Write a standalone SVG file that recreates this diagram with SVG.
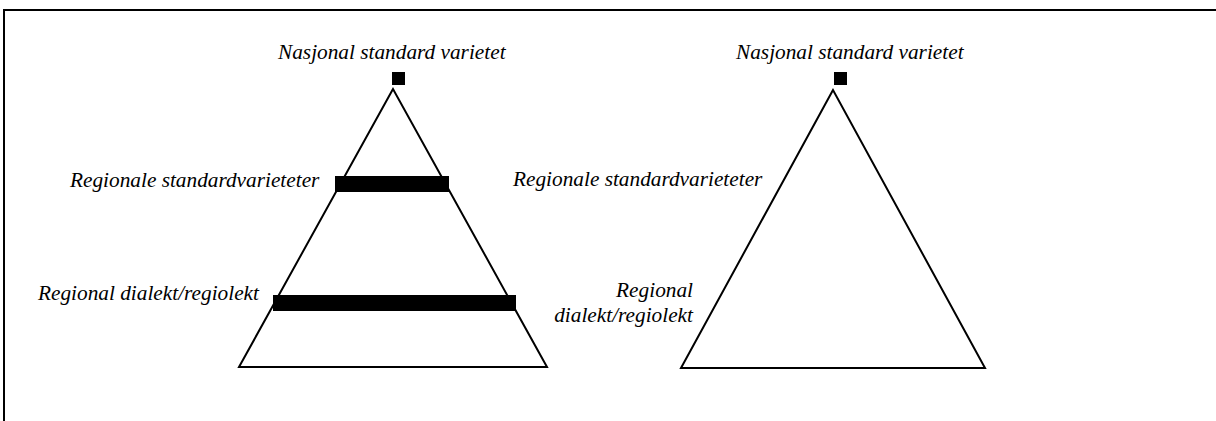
<svg xmlns="http://www.w3.org/2000/svg" width="1216" height="421" viewBox="0 0 1216 421">
  <style>
    .tri { fill: none; stroke: #000; stroke-width: 2; stroke-linejoin: miter; }
    .blk { fill: #000; }
    .frame { fill: none; stroke: #000; stroke-width: 2; }
  </style>
  <rect width="1216" height="421" fill="#fff"/>

  <!-- frame lines -->
  <path class="frame" d="M4,421 V10 H1216"/>

  <!-- left pyramid: national standard at the apex, two layers below -->
  <g id="pyramid-left">
    <polygon class="tri" points="393,89 239,367 547,367"/>
    <rect class="blk" x="392" y="72" width="13" height="13"/>
    <rect class="blk" x="335" y="176" width="114" height="16"/>
    <rect class="blk" x="273" y="295" width="243" height="16"/>
  </g>

  <g font-family="'Liberation Serif', 'DejaVu Serif', serif" font-style="italic" font-size="21.3" fill="#000">
    <g id="label-left-national">
      <text x="278" y="59">Nasjonal standard varietet</text>
    </g>
    <g id="label-left-regional-standard">
      <text x="70" y="187">Regionale standardvarieteter</text>
    </g>
    <g id="label-left-regional-dialect">
      <text x="38" y="300">Regional dialekt/regiolekt</text>
    </g>
    <g id="label-right-national">
      <text x="736" y="59">Nasjonal standard varietet</text>
    </g>
    <g id="label-right-regional-standard">
      <text x="513" y="186">Regionale standardvarieteter</text>
    </g>
    <g id="label-right-regional-dialect">
      <text x="693" y="297" text-anchor="end">Regional</text>
      <text x="693" y="322" text-anchor="end">dialekt/regiolekt</text>
    </g>
  </g>

  <!-- right pyramid: plain triangle with apex marker -->
  <g id="pyramid-right">
    <polygon class="tri" points="833,90 681,368 985,368"/>
    <rect class="blk" x="834" y="72" width="13" height="13"/>
  </g>

  <g id="connectors"></g>
</svg>
